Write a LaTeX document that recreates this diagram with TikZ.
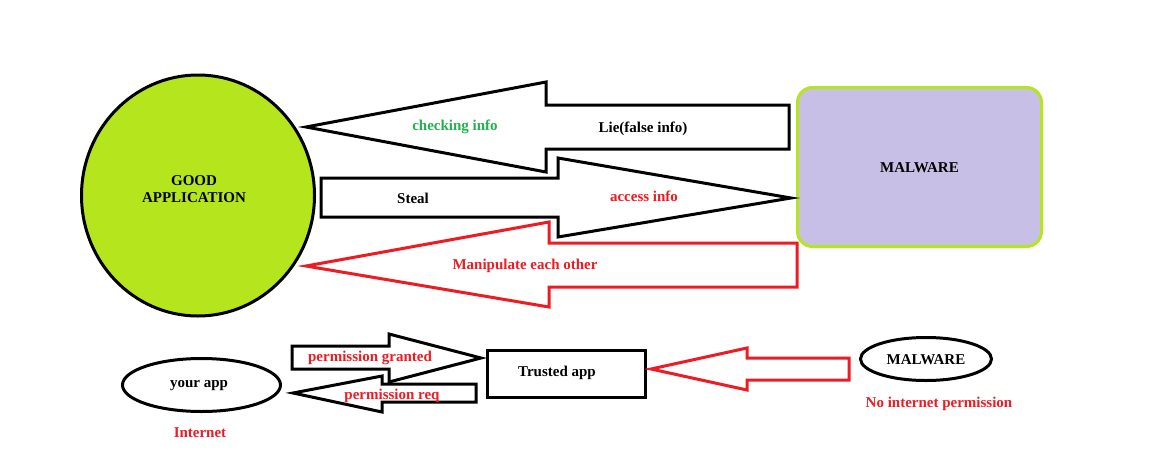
\documentclass[tikz,border=0pt]{standalone}
\usepackage{fontspec}
\setmainfont{Liberation Serif}
\usetikzlibrary{shapes.geometric}
\definecolor{plime}{HTML}{B5E61D}
\definecolor{plav}{HTML}{C8BFE7}
\definecolor{pred}{HTML}{ED1C24}
\definecolor{pgreen}{HTML}{22B14C}
\begin{document}
\begin{tikzpicture}[x=1pt,y=-1pt,
  lbl/.style={font=\fontsize{15}{17}\selectfont\bfseries, inner sep=0pt, text height=10pt, text depth=0pt},
  blkarrow/.style={draw=black, line width=3pt},
  redarrow/.style={draw=pred, line width=3pt},
  ell/.style={ellipse, draw=black, line width=3pt, inner sep=0pt},
]
\useasboundingbox[fill=white] (0,0) rectangle (1149,474);

% main shapes
\node[ell, fill=plime, minimum width=233pt, minimum height=241pt] (good) at (198,195.5) {};
\node[lbl, align=center, text height=, text depth=] (goodtxt) at (194,189) {GOOD\\APPLICATION};
\node[draw=plime, fill=plav, line width=3pt, rounded corners=15pt, minimum width=244pt, minimum height=159pt, lbl] (mal) at (919.5,167) {MALWARE};

% upper block arrows
\coordinate (t1) at (306,127);
\coordinate (t2) at (791,198);
\coordinate (t3) at (306,266);
\draw[blkarrow] (t1) -- (546,82) -- (546,105) -- (789,105) -- (789,149) -- (546,149) -- (546,172) -- cycle;
\draw[blkarrow] (321,178) -- (558,178) -- (558,158) -- (t2) -- (558,237) -- (558,217) -- (321,217) -- cycle;
\draw[redarrow] (t3) -- (549,222) -- (549,243) -- (797,243) -- (797,287) -- (549,287) -- (549,307) -- cycle;

\node[lbl, text=pgreen] (chk) at (455,125) {checking info};
\node[lbl] (lie) at (643,127) {Lie(false info)};
\node[lbl] (steal) at (413,198) {Steal};
\node[lbl, text=pred] (acc) at (644,196) {access info};
\node[lbl, text=pred] (manip) at (525,264) {Manipulate each other};

% lower part
\node[ell, minimum width=158pt, minimum height=53pt] (your) at (201.5,385) {};
\node[lbl] (yourtxt) at (199,382) {your app};
\node[lbl, text=pred] (inet) at (200,432) {Internet};

\node[draw=black, line width=3pt, minimum width=158pt, minimum height=47pt, inner sep=0pt] (trusted) at (566.5,374) {};
\node[lbl] (trustedtxt) at (557,371) {Trusted app};

\coordinate (t4) at (481,358);
\coordinate (t5) at (293,393);
\coordinate (t6) at (651,369);
\draw[blkarrow] (292,346) -- (389,346) -- (389,334) -- (t4) -- (389,382) -- (389,369) -- (292,369) -- cycle;
\draw[blkarrow] (t5) -- (382,376) -- (382,384) -- (476,384) -- (476,402) -- (382,402) -- (382,412) -- cycle;
\node[lbl, text=pred] (grant) at (370,356) {permission granted};
\node[lbl, text=pred] (req) at (392,394) {permission req};

\draw[redarrow] (t6) -- (747,348) -- (747,358) -- (849,358) -- (849,380) -- (747,380) -- (747,390) -- cycle;
\node[ell, minimum width=131pt, minimum height=43pt, lbl, text height=10pt] (mal2) at (926,359) {MALWARE};
\node[lbl, text=pred] (noinet) at (939,402) {No internet permission};
\end{tikzpicture}
\end{document}
